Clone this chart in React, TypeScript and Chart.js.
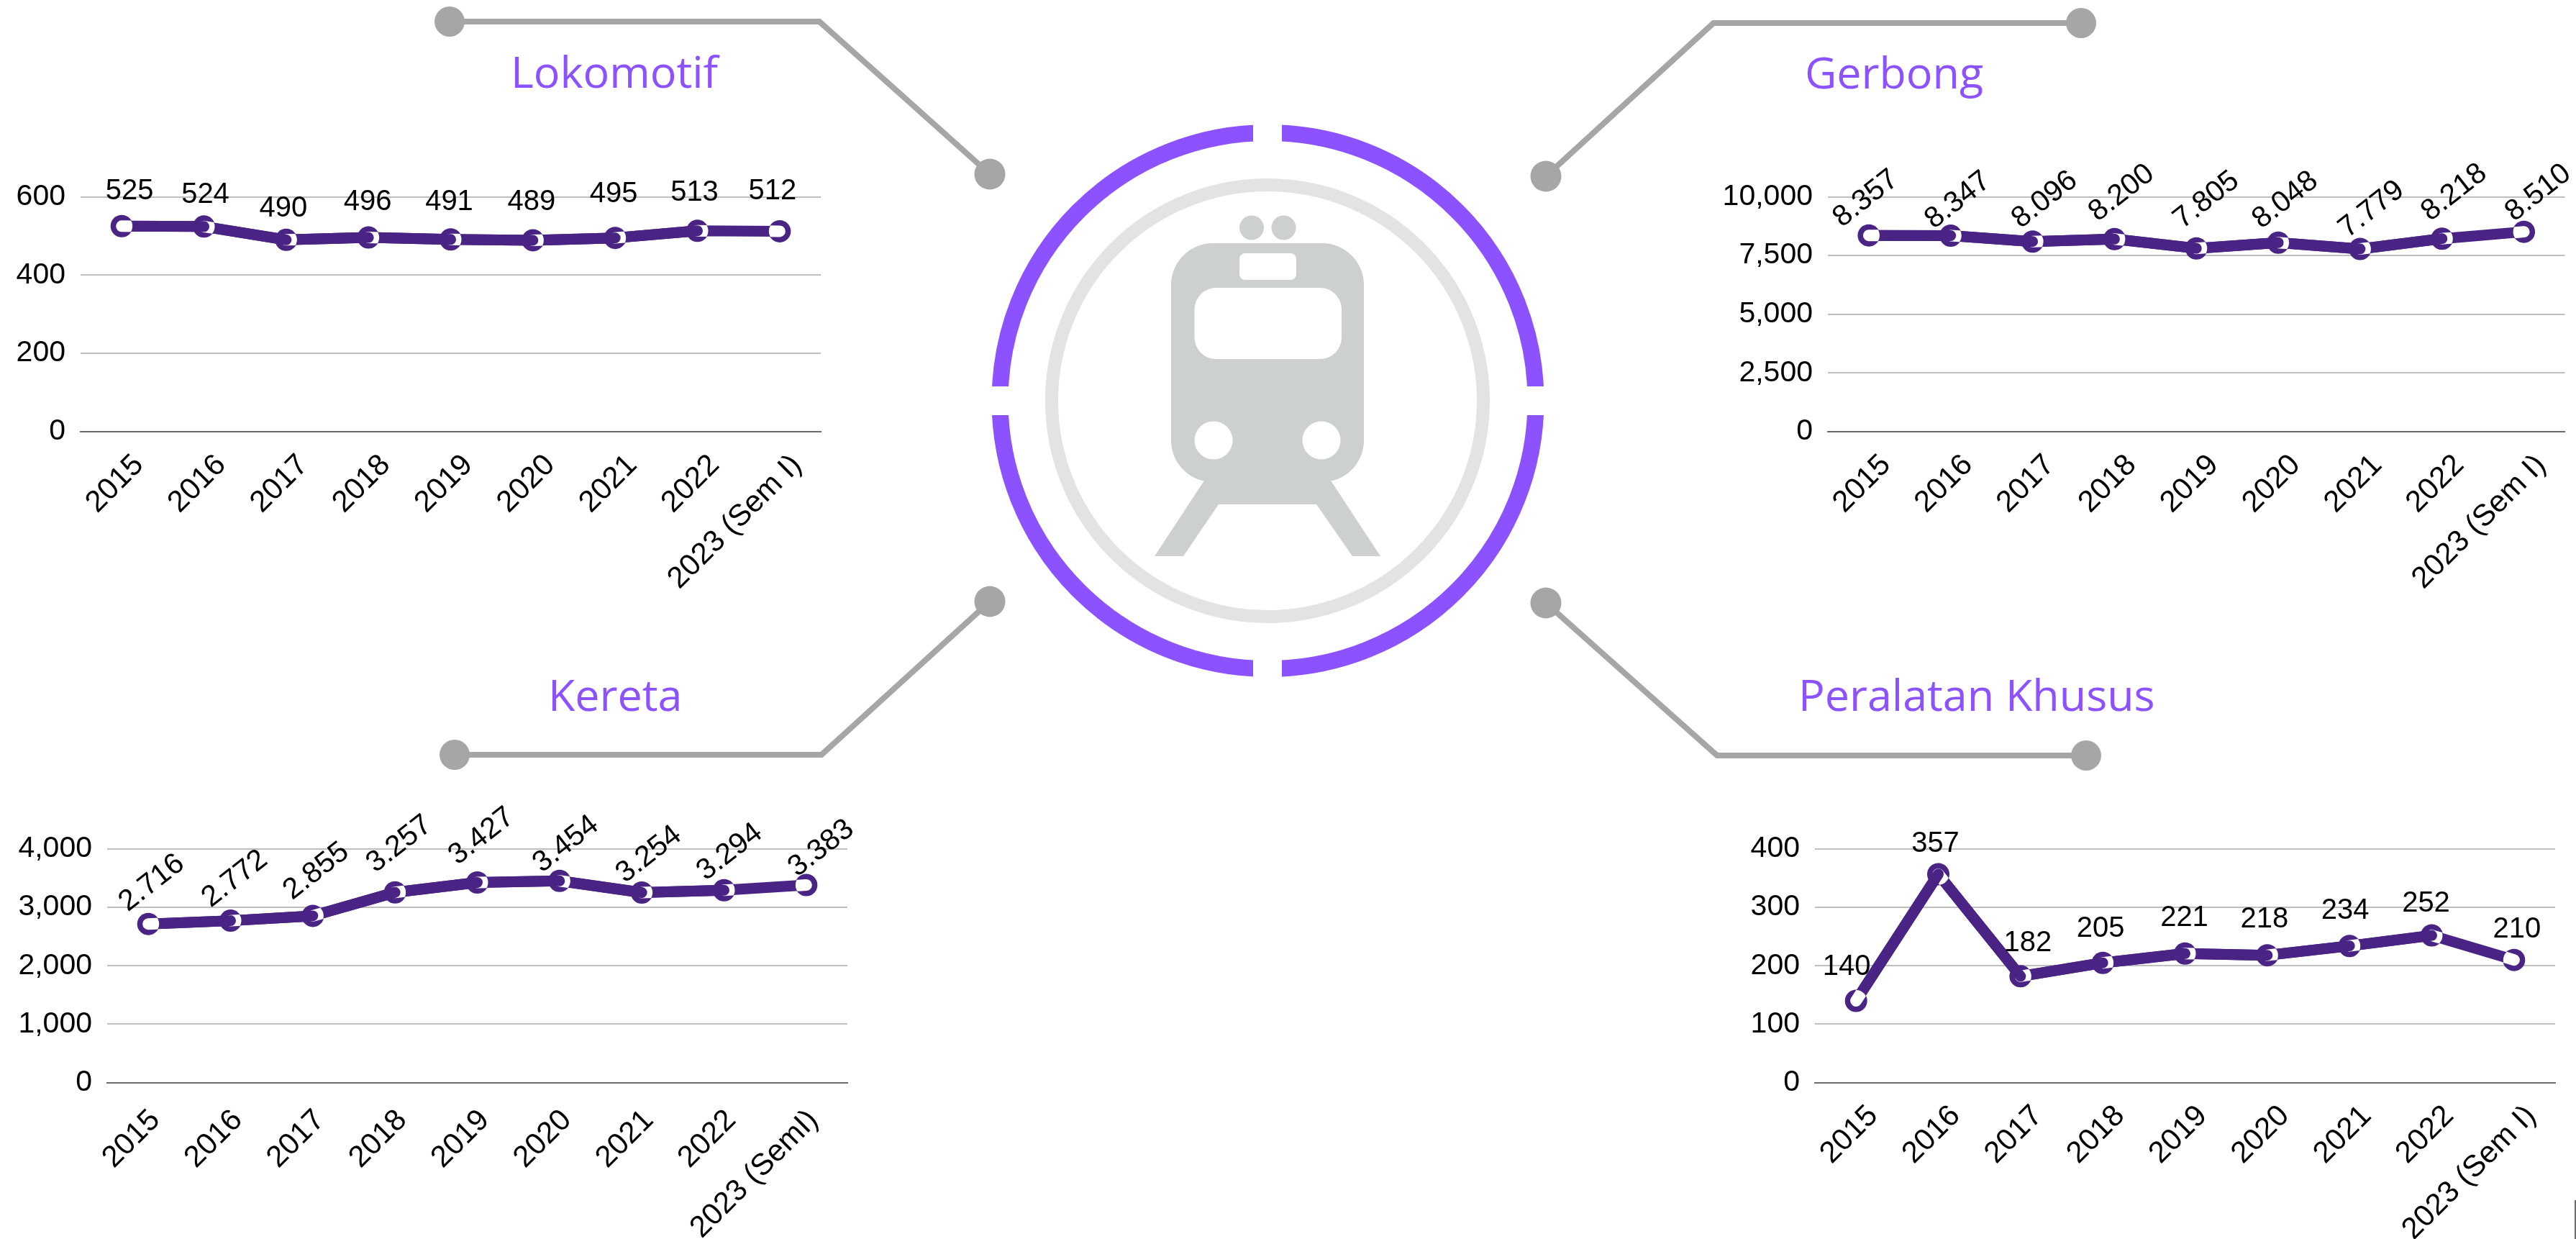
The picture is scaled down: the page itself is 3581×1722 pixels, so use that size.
import React, { useEffect, useRef } from "react";
import { Chart, registerables } from "chart.js";

Chart.register(...registerables);

const categories = ["2015", "2016", "2017", "2018", "2019", "2020", "2021", "2022", "2023 (Sem I)"];
const keretaCategories = ["2015", "2016", "2017", "2018", "2019", "2020", "2021", "2022", "2023 (SemI)"];

const lokomotifValues = [525, 524, 490, 496, 491, 489, 495, 513, 512];
const gerbongValues = [8357, 8347, 8096, 8200, 7805, 8048, 7779, 8218, 8510];
const keretaValues = [2716, 2772, 2855, 3257, 3427, 3454, 3254, 3294, 3383];
const khususValues = [140, 357, 182, 205, 221, 218, 234, 252, 210];

const FONT = '"Liberation Sans", Arial, sans-serif';
const PURPLE = "#4a2485";
const LINE_W = 15;
const MARKER_R = 15.5;

const fmtDot = (v: number) => String(v).replace(/\B(?=(\d{3})+$)/g, ".");
const fmtComma = (v: number) => String(v).replace(/\B(?=(\d{3})+$)/g, ",");

// white core of a marker, stretched along the line towards its neighbour and clipped to the ring
function whiteCore(ctx: any, p: any, to: any) {
  const a = Math.atan2(to.y - p.y, to.x - p.x);
  ctx.save();
  ctx.beginPath();
  ctx.arc(p.x, p.y, MARKER_R - 0.5, 0, Math.PI * 2);
  ctx.clip();
  ctx.strokeStyle = "#fff";
  ctx.lineWidth = 16;
  ctx.lineCap = "round";
  ctx.beginPath();
  ctx.moveTo(p.x, p.y);
  ctx.lineTo(p.x + Math.cos(a) * 24, p.y + Math.sin(a) * 24);
  ctx.stroke();
  ctx.restore();
}

const labelsPlugin = {
  id: "manualLabels",
  afterDatasetsDraw(chart: any, _a: any, opts: any) {
    const ctx = chart.ctx;
    const pts = chart.getDatasetMeta(0).data;
    const vals = chart.data.datasets[0].data;
    const last = pts.length - 1;
    ctx.save();
    // painted last to first: each incoming segment covers the white core of its own marker only
    for (let i = last; i >= 0; i--) {
      const p = pts[i];
      whiteCore(ctx, p, i === last ? pts[i - 1] : pts[i + 1]);
      if (i > 0 && i < last) {
        ctx.strokeStyle = PURPLE;
        ctx.lineWidth = LINE_W;
        ctx.lineCap = "round";
        ctx.beginPath();
        ctx.moveTo(pts[i - 1].x, pts[i - 1].y);
        ctx.lineTo(p.x, p.y);
        ctx.stroke();
      }
    }
    ctx.fillStyle = "#000";
    ctx.font = `${opts.size}px ${FONT}`;
    ctx.textAlign = "center";
    ctx.textBaseline = "middle";
    pts.forEach((p: any, i: number) => {
      const [dx, dy] = opts.offsets[i];
      ctx.save();
      ctx.translate(p.x + dx + opts.nudge[0], p.y + dy + opts.nudge[1]);
      ctx.rotate((opts.angle * Math.PI) / 180);
      ctx.fillText(fmtDot(vals[i]), 0, 0);
      ctx.restore();
    });
    ctx.restore();
  },
};

type Spec = {
  labels: string[];
  values: number[];
  max: number;
  step: number;
  left: number;
  top: number;
  width: number;
  height: number;
  yWidth: number;
  padTop: number;
  padRight: number;
  xHeight: number;
  angle: number;
  labelSize: number;
  tickShift: number;
  tickPad: number;
  nudge: number[];
  offsets: number[][];
};

const specs: Spec[] = [
  {
    labels: categories, values: lokomotifValues, max: 600, step: 200,
    left: 0, top: 200, width: 1170, height: 630, yWidth: 112, padTop: 73.5, padRight: 29, xHeight: 230, angle: 0,
    labelSize: 40, tickShift: 24, tickPad: 22, nudge: [0, 3],
    offsets: [[11, -51], [2, -47], [-4, -46], [-1, -52], [-2, -55], [-2, -56], [-2, -64], [-4, -56], [-10, -58]],
  },
  {
    labels: categories, values: gerbongValues, max: 10000, step: 2500,
    left: 2380, top: 200, width: 1201, height: 630, yWidth: 161, padTop: 73.5, padRight: 11, xHeight: 230, angle: -38,
    labelSize: 41, tickShift: 24, tickPad: 22, nudge: [2, 1],
    offsets: [[-6, -52], [8, -50], [15, -59], [8, -65], [12, -68], [8, -60], [14, -56], [15, -65], [18, -55]],
  },
  {
    labels: keretaCategories, values: keretaValues, max: 4000, step: 1000,
    left: 0, top: 1110, width: 1210, height: 612, yWidth: 149, padTop: 70, padRight: 32, xHeight: 217.5, angle: -38,
    labelSize: 41, tickShift: 10, tickPad: 28, nudge: [2, 1],
    offsets: [[3, -58], [4, -59], [3, -63], [4, -68], [4, -65], [7, -52], [8, -54], [6, -54], [19, -52]],
  },
  {
    labels: categories, values: khususValues, max: 400, step: 100,
    left: 2370, top: 1110, width: 1211, height: 612, yWidth: 153, padTop: 70, padRight: 29, xHeight: 217.5, angle: 0,
    labelSize: 40, tickShift: 24, tickPad: 22, nudge: [0, 3],
    offsets: [[-13, -50], [-4, -45], [10, -49], [-3, -50], [-1, -52], [-4, -53], [-6, -52], [-8, -47], [4, -45]],
  },
];

function LineChart({ spec }: { spec: Spec }) {
  const ref = useRef<HTMLCanvasElement>(null);
  useEffect(() => {
    const chart = new Chart(ref.current as HTMLCanvasElement, {
      type: "line",
      data: {
        labels: spec.labels,
        datasets: [
          {
            data: spec.values,
            borderColor: PURPLE,
            borderWidth: LINE_W,
            borderCapStyle: "butt",
            borderJoinStyle: "round",
            backgroundColor: PURPLE,
            pointBackgroundColor: PURPLE,
            pointBorderColor: PURPLE,
            pointBorderWidth: 0,
            pointRadius: MARKER_R,
            tension: 0,
            clip: false,
          } as any,
        ],
      },
      options: {
        animation: false,
        responsive: false,
        events: [],
        layout: { padding: { top: spec.padTop, right: spec.padRight, left: 0, bottom: 0 } },
        plugins: {
          legend: { display: false },
          title: { display: false },
          tooltip: { enabled: false },
          manualLabels: { offsets: spec.offsets, angle: spec.angle, size: spec.labelSize, nudge: spec.nudge },
        } as any,
        scales: {
          x: {
            offset: true,
            grid: { display: false, drawTicks: false },
            border: { display: true, color: "#6b6b6b", width: 2 },
            ticks: {
              autoSkip: false,
              maxRotation: 45,
              minRotation: 45,
              labelOffset: spec.tickShift,
              padding: spec.tickPad,
              color: "#000",
              font: { family: FONT, size: 42 },
            },
            afterFit: (a: any) => {
              a.height = spec.xHeight;
            },
          },
          y: {
            min: 0,
            max: spec.max,
            grid: {
              drawTicks: false,
              lineWidth: 2,
              color: (c: any) => (c.tick && c.tick.value === 0 ? "#6b6b6b" : "#bfbfbf"),
            },
            border: { display: false },
            ticks: {
              stepSize: spec.step,
              padding: 21,
              color: "#000",
              font: { family: FONT, size: 41 },
              callback: (v: any) => fmtComma(Number(v)),
            },
            afterFit: (a: any) => {
              a.width = spec.yWidth;
            },
          },
        },
      },
      plugins: [labelsPlugin as any],
    });
    return () => chart.destroy();
  }, [spec]);
  return (
    <canvas
      ref={ref}
      width={spec.width}
      height={spec.height}
      style={{ position: "absolute", left: spec.left, top: spec.top, width: spec.width, height: spec.height }}
    />
  );
}

const GREY = "#a6a6a6";
const VIOLET = "#8c52ff";
const TRAIN = "#ccd0cf";

function Connector({ a, b, c }: { a: number[]; b: number[]; c: number[] }) {
  return (
    <g>
      <polyline points={`${a} ${b} ${c}`} fill="none" stroke={GREY} strokeWidth={8} />
      <circle cx={a[0]} cy={a[1]} r={21} fill={GREY} />
      <circle cx={c[0]} cy={c[1]} r={21.5} fill={GREY} />
    </g>
  );
}

const titleStyle = { fontFamily: '"Open Sans", sans-serif', fontSize: 61, fill: VIOLET };

function Decor() {
  const cx = 1762.5;
  const cy = 557;
  const r = 372.5;
  return (
    <svg width={3581} height={1722} style={{ position: "absolute", left: 0, top: 0 }}>
      <Connector a={[625, 30]} b={[1139, 30]} c={[1376, 242]} />
      <Connector a={[2893, 32]} b={[2382, 32]} c={[2149, 245]} />
      <Connector a={[632, 1049]} b={[1142, 1049]} c={[1376, 836]} />
      <Connector a={[2900, 1050]} b={[2387, 1050]} c={[2149, 838]} />
      <circle cx={cx} cy={cy} r={r} fill="none" stroke={VIOLET} strokeWidth={23} />
      <rect x={1742} y={160} width={40} height={800} fill="#fff" />
      <rect x={1360} y={537} width={800} height={40} fill="#fff" />
      <circle cx={1762} cy={557} r={300} fill="none" stroke="#e3e3e3" strokeWidth={18} />
      <circle cx={1740} cy={316.5} r={17} fill={TRAIN} />
      <circle cx={1784.5} cy={316.5} r={17} fill={TRAIN} />
      <rect x={1628} y={338} width={268} height={332} rx={58} fill={TRAIN} />
      <polygon
        points="1674,668 1605,773 1645,773 1694,701 1830,701 1880,773 1919,773 1850,668"
        fill={TRAIN}
      />
      <rect x={1723} y={352} width={79} height={37} rx={8} fill="#fff" />
      <rect x={1660.5} y={400} width={204.5} height={99} rx={30} fill="#fff" />
      <circle cx={1687} cy={612} r={26.5} fill="#fff" />
      <circle cx={1837} cy={612} r={26.5} fill="#fff" />
      <text x={710} y={122} style={titleStyle}>Lokomotif</text>
      <text x={2509} y={123} style={titleStyle}>Gerbong</text>
      <text x={762} y={988} style={titleStyle}>Kereta</text>
      <text x={2500} y={988} style={titleStyle}>Peralatan Khusus</text>
      <line x1={3580} y1={1668} x2={3580} y2={1722} stroke="#6b6b6b" strokeWidth={2} />
    </svg>
  );
}

export default function App() {
  return (
    <div style={{ position: "absolute", left: 0, top: 0, width: 3581, height: 1722, overflow: "hidden", background: "#fff" }}>
      <Decor />
      {specs.map((s, i) => (
        <LineChart key={i} spec={s} />
      ))}
    </div>
  );
}
